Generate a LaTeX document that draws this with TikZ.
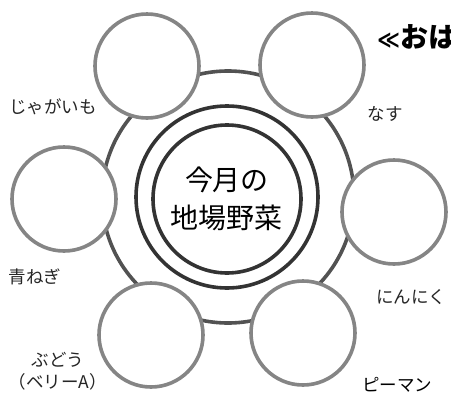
\documentclass[tikz,border=0pt]{standalone}
\usepackage{fontspec}
\setmainfont{Noto Sans CJK JP}
\newfontfamily\symfont{DejaVu Sans}
\begin{document}
\begin{tikzpicture}[x=1pt,y=-1pt,
  ring/.style={draw=black!68,line width=3.6pt},
  veg/.style={circle,draw=black!48,line width=3.6pt,fill=white,minimum size=104pt,inner sep=0pt},
  core/.style={circle,draw=black!80,line width=3.6pt,inner sep=0pt},
  lbl/.style={font=\fontsize{17.5}{22}\selectfont,text=black!85,inner sep=0pt}]
\useasboundingbox (0,0) rectangle (451,394);
\clip (0,0) rectangle (451,394);
\fill[white] (0,0) rectangle (451,394);
\node[circle,ring,minimum size=252pt,inner sep=0pt] (ring) at (228,197) {};
\node[veg] (c1) at (147,66) {};
\node[veg] (c2) at (312,65) {};
\node[veg] (c3) at (394,212) {};
\node[veg] (c4) at (64,199) {};
\node[veg] (c5) at (151,335) {};
\node[veg] (c6) at (303,333) {};
\node[core,minimum size=182pt] (o) at (227,197) {};
\node[core,minimum size=148pt,align=center,font=\fontsize{28}{38}\selectfont] (i) at (227,199) {今月の\\地場野菜};
\node[lbl] (t1) at (53,107) {じゃがいも};
\node[lbl] (t2) at (385,114) {なす};
\node[lbl] (t4) at (35,277) {青ねぎ};
\node[lbl] (t3) at (411,297) {にんにく};
\node[lbl,align=center] (t5) at (58,371) {ぶどう\\（ベリーA）};
\node[lbl,text=black] (t6) at (397,385) {ピーマン};
\node[anchor=west,inner sep=0pt,font=\fontsize{28}{30}\selectfont\bfseries] (title) at (377,37) {{\symfont\fontsize{22}{24}\selectfont ≪}おは};
\end{tikzpicture}
\end{document}
